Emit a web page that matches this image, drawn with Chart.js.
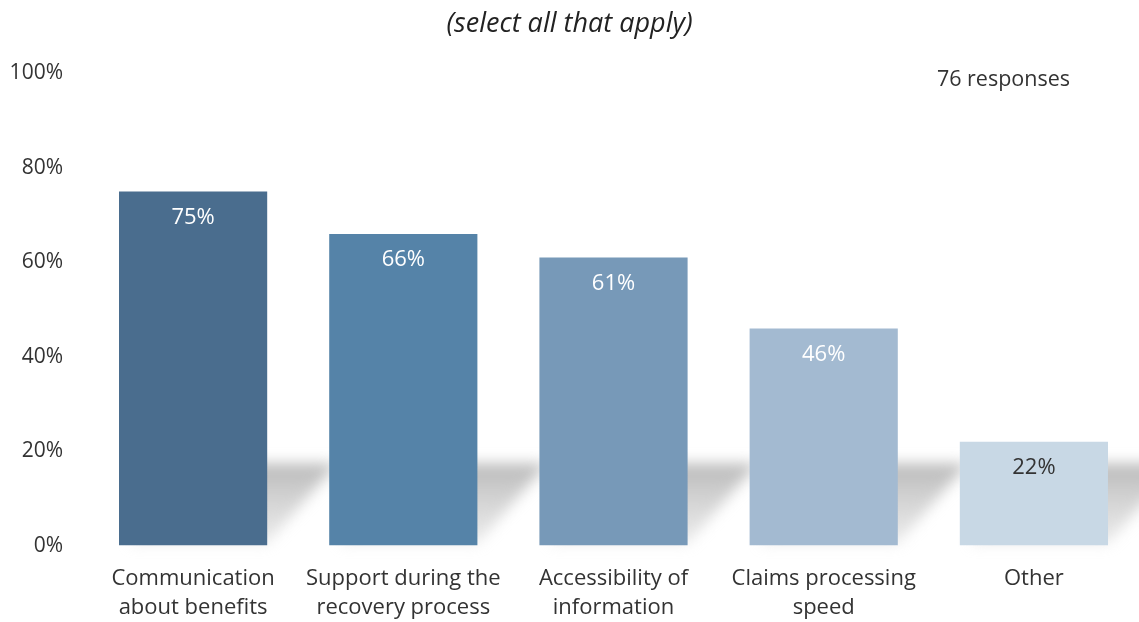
<!DOCTYPE html>
<html>
<head>
<meta charset="utf-8">
<script src="https://cdn.jsdelivr.net/npm/chart.js@4/dist/chart.umd.min.js"></script>
<style>
  html, body { margin: 0; padding: 0; background: #fff; }
  #wrap { width: 1139px; height: 622px; }
</style>
</head>
<body>
<div id="wrap"><canvas id="chart"></canvas></div>
<script>
const categories = [
    ['Communication', 'about benefits'],
    ['Support during the', 'recovery process'],
    ['Accessibility of', 'information'],
    ['Claims processing', 'speed'],
    'Other'
];
const percentages = [75, 66, 61, 46, 22];
const barColors = ['#4a6d8e', '#5583a8', '#7799b8', '#a3bad1', '#c8d8e5'];
const labelColors = ['#ffffff', '#ffffff', '#ffffff', '#ffffff', '#333333'];
const yTicks = [0, 20, 40, 60, 80, 100];
const subtitle = '(select all that apply)';
const responsesNote = '76 responses';

const fontFamily = '"Open Sans", "Noto Sans", sans-serif';

// soft floor shadow behind every bar
const barShadows = {
    id: 'barShadows',
    beforeDatasetsDraw(chart) {
        const ctx = chart.ctx;
        const meta = chart.getDatasetMeta(0);
        ctx.save();
        ctx.filter = 'blur(7px)';
        meta.data.forEach(bar => {
            const half = bar.width / 2;
            const left = bar.x - half;
            const right = bar.x + half;
            const bottom = bar.base;
            const grad = ctx.createLinearGradient(0, bottom - 85, 0, bottom);
            grad.addColorStop(0, 'rgba(170,170,170,0.85)');
            grad.addColorStop(1, 'rgba(200,200,200,0.35)');
            ctx.fillStyle = grad;
            ctx.beginPath();
            ctx.moveTo(left + 10, bottom - 2);
            ctx.lineTo(right, bottom - 2);
            ctx.lineTo(right + 70, bottom - 82);
            ctx.lineTo(left + 70, bottom - 82);
            ctx.closePath();
            ctx.fill();
        });
        ctx.restore();
    }
};

// value labels inside the bars and the response count
const valueLabels = {
    id: 'valueLabels',
    afterDatasetsDraw(chart) {
        const ctx = chart.ctx;
        const meta = chart.getDatasetMeta(0);
        ctx.save();
        ctx.font = '22px ' + fontFamily;
        ctx.textAlign = 'center';
        ctx.textBaseline = 'middle';
        meta.data.forEach((bar, i) => {
            ctx.fillStyle = labelColors[i];
            ctx.fillText(percentages[i] + '%', bar.x, bar.y + 26);
        });
        ctx.font = '21.5px ' + fontFamily;
        ctx.fillStyle = '#333333';
        ctx.textAlign = 'right';
        ctx.fillText(responsesNote, 1070, 80);
        ctx.restore();
    }
};

new Chart(document.getElementById('chart'), {
    type: 'bar',
    data: {
        labels: categories,
        datasets: [{
            data: percentages,
            backgroundColor: barColors,
            borderWidth: 0,
            barPercentage: 0.705,
            categoryPercentage: 1
        }]
    },
    options: {
        responsive: true,
        maintainAspectRatio: false,
        animation: false,
        layout: { padding: 0 },
        plugins: {
            legend: { display: false },
            tooltip: { enabled: false },
            title: {
                display: true,
                text: subtitle,
                color: '#222222',
                font: { family: fontFamily, size: 27, style: 'italic', weight: 'normal', lineHeight: 1.2 },
                padding: { top: 8, bottom: 33 }
            }
        },
        scales: {
            x: {
                afterFit: axis => { axis.height -= 11; },
                grid: { display: false },
                border: { display: false },
                ticks: {
                    color: '#333333',
                    font: { family: fontFamily, size: 22, lineHeight: 1.35 },
                    padding: 10,
                    maxRotation: 0,
                    autoSkip: false
                }
            },
            y: {
                min: 0,
                max: 100,
                afterBuildTicks: axis => { axis.ticks = yTicks.map(v => ({ value: v })); },
                afterFit: axis => { axis.width = 88; },
                grid: { display: false },
                border: { display: false },
                ticks: {
                    color: '#333333',
                    font: { family: fontFamily, size: 21 },
                    padding: 17,
                    callback: v => v + '%'
                }
            }
        }
    },
    plugins: [barShadows, valueLabels]
});
</script>
</body>
</html>
